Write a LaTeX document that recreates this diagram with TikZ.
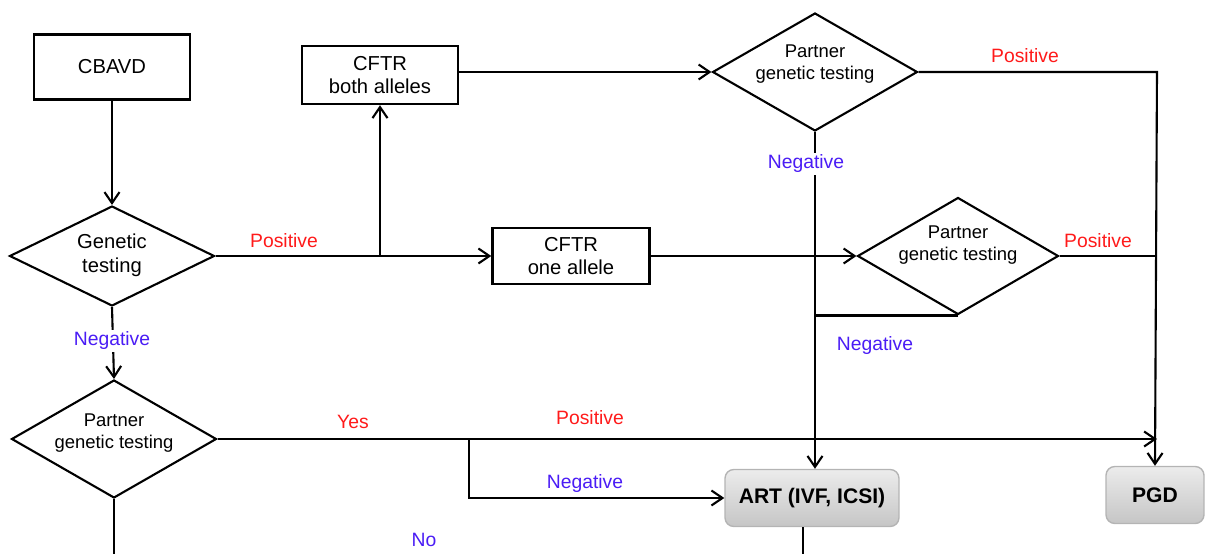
\documentclass[tikz,border=0pt]{standalone}
\usepackage{fontspec}
\setmainfont{Liberation Sans}
\usepackage{tikz}
\usetikzlibrary{arrows.meta,positioning,calc,shapes.geometric}
\definecolor{posred}{HTML}{FF1A1A}
\definecolor{negblue}{HTML}{4A1CF5}
\definecolor{boxgray}{HTML}{B4B4B4}
\newcommand{\liftedtext}[2]{\raisebox{#1}[\height][\depth]{\begin{tabular}{@{}c@{}}#2\end{tabular}}}

\begin{document}
\begin{tikzpicture}[x=0.02cm,y=-0.02cm,>={Straight Barb[length=2.2mm,width=3mm]},line width=1.2pt]
  \tikzstyle{box}=[draw,rectangle,align=center,font=\fontsize{11.5}{13.5}\selectfont,inner sep=0pt,line width=1.4pt]
  \tikzstyle{test}=[draw,diamond,aspect=1.7,inner sep=0pt,font=\fontsize{10.5}{12.5}\selectfont]
  \tikzstyle{result}=[rounded corners=5pt,draw=boxgray,line width=0.8pt,top color=gray!15,bottom color=gray!45,minimum height=1.14cm,font=\fontsize{12}{14}\selectfont\bfseries]
  \tikzstyle{poslabel}=[text=posred,font=\fontsize{11}{13}\selectfont]
  \tikzstyle{neglabel}=[text=negblue,font=\fontsize{11}{13}\selectfont]
  \useasboundingbox (0,0) rectangle (1205,554);
  % boxes
  \node[box,minimum width=3.12cm,minimum height=1.3cm] (cbavd) at (112,67) {CBAVD};
  \node[box,minimum width=3.12cm,minimum height=1.16cm] (both) at (380,75) {CFTR\\both alleles};
  \node[box,minimum width=3.14cm,minimum height=1.12cm] (one) at (571,256) {CFTR\\one allele};
  % tests
  \node[test,minimum width=4.1cm,minimum height=2cm,font=\fontsize{11.5}{13.5}\selectfont] (gt) at (112,256) {\liftedtext{0pt}{Genetic\\testing}};
  \node[test,minimum width=4.1cm,minimum height=2.36cm] (pa) at (815,72) {\liftedtext{4.5pt}{Partner\\genetic testing}};
  \node[test,minimum width=4.02cm,minimum height=2.34cm] (pb) at (958,256) {\liftedtext{6pt}{Partner\\genetic testing}};
  \node[test,minimum width=4.1cm,minimum height=2.36cm] (pc) at (114,439) {\liftedtext{3.4pt}{Partner\\genetic testing}};
  % outcomes
  \node[result,minimum width=3.48cm] (art) at (812,498) {ART (IVF, ICSI)};
  \node[result,minimum width=1.96cm] (pgd) at (1155,495) {PGD};
  \coordinate (split) at (380,256);
  \coordinate (rt) at (1157,72);
  \coordinate (br) at (469,439);
  \coordinate (endc) at (114,554);
  \coordinate (enda) at (803,554);
  % connectors
  \draw[->] (cbavd) -- (gt);
  \draw[->] (gt.east) -- (one.west);
  \draw[->] (split) -- (both.south);
  \draw[->] (both.east |- pa.west) -- (pa.west);
  \draw[->] (one.east) -- (pb.west);
  \draw[->] (pa.east) -- (rt) -- (pgd.north);
  \draw (pb.east) -- (pb.east -| rt);
  \draw[->] (pa.south) -- (pa.south |- art.north);
  \draw (pb.south) -- (pb.south -| pa.south);
  \draw[->] (gt.south) -- (pc.north);
  \draw[->] (pc.east) -- (pc.east -| rt);
  \draw[->] (br) |- (art.west);
  \draw (pc.south) -- (endc);
  \draw (art.south -| enda) -- (enda);
  % labels
  \node[poslabel] (l1) at (284,241) {Positive};
  \node[poslabel] (l2) at (1025,56) {Positive};
  \node[poslabel] (l3) at (1098,241) {Positive};
  \node[poslabel] (l4) at (590,418) {Positive};
  \node[poslabel] (l5) at (353,422) {Yes};
  \node[neglabel,fill=white,inner sep=1pt] (l6) at (806,164) {Negative};
  \node[neglabel,fill=white,inner sep=1pt] (l7) at (112,341) {Negative};
  \node[neglabel] (l8) at (875,346) {Negative};
  \node[neglabel] (l9) at (585,484) {Negative};
  \node[neglabel] (l10) at (424,540) {No};
\end{tikzpicture}
\end{document}
